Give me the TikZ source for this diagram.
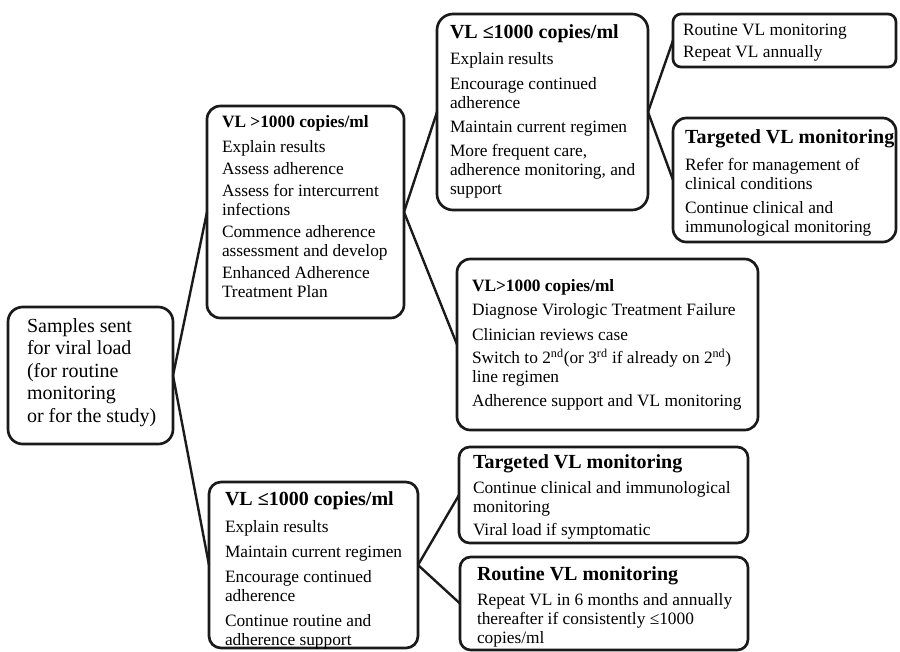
\documentclass[tikz,border=0pt]{standalone}
\usepackage{fontspec}
\setmainfont{Liberation Serif}
\newdimen\pxu \pxu=0.75pt
\newcommand{\boxtext}[5]{\parbox[c][#1\pxu][t]{#2\pxu}{\raggedright\leftskip=#3\pxu\rule{0pt}{#4\pxu}#5}}
\newcommand{\ttl}[1]{{\fontsize{15}{15}\selectfont\bfseries #1}}
\newcommand{\ttls}[1]{{\fontsize{13}{13}\selectfont\bfseries #1}}
\definecolor{ink}{HTML}{1A1A1A}
\begin{document}
\begin{tikzpicture}[x=0.75pt,y=-0.75pt,
  vbox/.style={draw=ink, line width=2pt, rounded corners=10pt, anchor=north west,
    inner sep=0pt, outer sep=0pt, text=black, font=\fontsize{13}{14.25}\selectfont},
  conn/.style={draw=ink, line width=1.8pt}]
\useasboundingbox (0,0) rectangle (900,651);

\node[vbox, rounded corners=11pt, font=\fontsize{15}{16.875}\selectfont] (A) at (8,307)
  {\boxtext{137}{165}{19}{25}{Samples sent\\ for viral load\\ (for routine\\ monitoring\\ or for the study)}};

\node[vbox] (B) at (207,106)
  {\boxtext{212}{197}{15}{21}{\ttls{VL >1000 copies/ml}\\[6\pxu]
   Explain results\\[3\pxu]
   Assess adherence\\[3\pxu]
   Assess for intercurrent\\ infections\\[3\pxu]
   Commence adherence\\ assessment and develop\\[3\pxu]
   Enhanced Adherence\\ Treatment Plan}};

\node[vbox, rounded corners=12pt] (D) at (437,14)
  {\boxtext{196}{211}{13}{24}{\ttl{VL ≤1000 copies/ml}\\[7\pxu]
   Explain results\\[6\pxu]
   Encourage continued\\ adherence\\[5\pxu]
   Maintain current regimen\\[5\pxu]
   More frequent care,\\ adherence monitoring, and\\ support}};

\node[vbox, rounded corners=6pt] (E) at (673,14)
  {\boxtext{53}{223}{10}{21}{Routine VL monitoring\\[3\pxu]
   Repeat VL annually}};

\node[vbox] (F) at (673,118)
  {\boxtext{124}{223}{12}{25}{\ttl{Targeted VL monitoring}\\[8\pxu]
   Refer for management of\\ clinical conditions\\[5\pxu]
   Continue clinical and\\ immunological monitoring}};

\node[vbox] (G) at (457,259)
  {\boxtext{171}{301}{15}{32}{\ttls{VL>1000 copies/ml}\\[5\pxu]
   Diagnose Virologic Treatment Failure\\[6\pxu]
   Clinician reviews case\\[4\pxu]
   Switch to 2\textsuperscript{nd}(or 3\textsuperscript{rd} if already on 2\textsuperscript{nd})\\ line regimen\\[5\pxu]
   Adherence support and VL monitoring}};

\node[vbox, rounded corners=9pt] (C) at (209,482)
  {\boxtext{166}{209}{16}{23}{\ttl{VL ≤1000 copies/ml}\\[8\pxu]
   Explain results\\[6\pxu]
   Maintain current regimen\\[6\pxu]
   Encourage continued\\ adherence\\[6\pxu]
   Continue routine and\\ adherence support}};

\node[vbox, rounded corners=8pt] (H) at (459,447)
  {\boxtext{96}{289}{14}{21}{\ttl{Targeted VL monitoring}\\[6\pxu]
   Continue clinical and immunological\\ monitoring\\[4\pxu]
   Viral load if symptomatic}};

\node[vbox, rounded corners=8pt] (I) at (460,557)
  {\boxtext{93}{288}{17}{23}{\ttl{Routine VL monitoring}\\[6\pxu]
   Repeat VL in 6 months and annually\\ thereafter if consistently ≤1000\\ copies/ml}};

\draw[conn] (A.east) -- (B.west);
\draw[conn] (A.east) -- (C.west);
\draw[conn] (B.east) -- (D.west);
\draw[conn] (B.east) -- (G.west);
\draw[conn] (D.east) -- (E.west);
\draw[conn] (D.east) -- (F.west);
\draw[conn] (C.east) -- (H.west);
\draw[conn] (C.east) -- (I.west);
\end{tikzpicture}
\end{document}
